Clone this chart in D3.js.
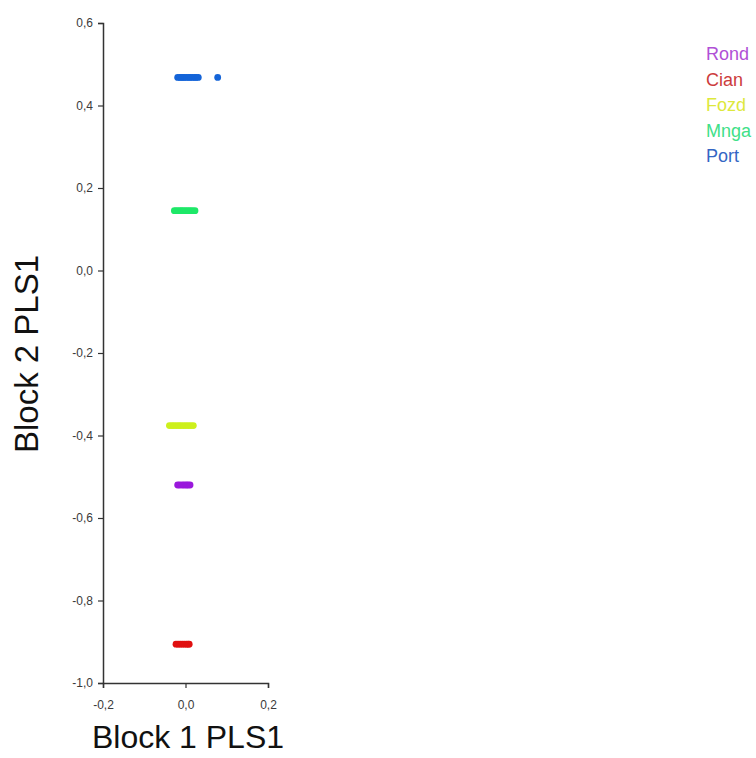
<!DOCTYPE html>
<html>
<head>
<meta charset="utf-8">
<script src="https://cdn.jsdelivr.net/npm/d3@7"></script>
<style>
  body { margin: 0; background: #fff; }
  svg { display: block; font-family: Arial, "Liberation Sans", sans-serif; }
</style>
</head>
<body>
<svg width="756" height="758"></svg>
<script>
// groups, in legend order
const groups = ['Rond', 'Cian', 'Fozd', 'Mnga', 'Port'];
const groupColors = ['#9a18dc', '#e01010', '#cdf01c', '#1ee868', '#1464d8'];
const legendColors = ['#b050d6', '#cc3c3c', '#dde83c', '#40e088', '#3466c4'];

// Block 2 PLS1 score per group (all specimens of a group share it)
const block2 = [-0.52, -0.906, -0.376, 0.145, 0.468];

// Block 1 PLS1 scores per group
const rondX = [-0.019, -0.014, -0.008, -0.003, 0.002, 0.006, 0.011];
const cianX = [-0.023, -0.018, -0.013, -0.008, -0.003, 0.002, 0.006, 0.009];
const fozdX = [-0.039, -0.033, -0.028, -0.022, -0.016, -0.011, -0.005, 0.001, 0.007, 0.013, 0.019];
const mngaX = [-0.027, -0.022, -0.017, -0.012, -0.008, -0.003, 0.002, 0.007, 0.012, 0.017, 0.023];
const portX = [-0.019, -0.014, -0.010, -0.006, -0.002, 0.003, 0.008, 0.012, 0.017, 0.022, 0.026, 0.031, 0.078];

const xTicks = [-0.2, 0.0, 0.2];
const yTicks = [0.6, 0.4, 0.2, 0.0, -0.2, -0.4, -0.6, -0.8, -1.0];

const svg = d3.select('svg');

const x = d3.scaleLinear().domain([-0.2, 0.2]).range([103, 268]);
const y = d3.scaleLinear().domain([-1.0, 0.6]).range([683, 23]);

const color = d3.scaleOrdinal(groups, groupColors);
const legendColor = d3.scaleOrdinal(groups, legendColors);
// decimal comma and plain hyphen, like the original
const fmt = d => d3.format('.1f')(d).replace('.', ',').replace('\u2212', '-');

const points = [rondX, cianX, fozdX, mngaX, portX]
  .flatMap((xs, i) => xs.map(v => ({ group: groups[i], x: v, y: block2[i] })));

// axes
const styleAxis = g => {
  g.select('.domain').attr('stroke', '#333').attr('stroke-width', 1.5);
  g.selectAll('.tick line').attr('stroke', '#333').attr('stroke-width', 1.2);
  g.selectAll('.tick text').attr('fill', '#3a3a3a').attr('font-size', 12);
};

svg.append('g')
  .attr('transform', `translate(${x.range()[0]},0)`)
  .call(d3.axisLeft(y).tickValues(yTicks).tickFormat(fmt).tickSize(5).tickPadding(5))
  .call(styleAxis);

svg.append('g')
  .attr('transform', `translate(0,${y.range()[0]})`)
  .call(d3.axisBottom(x).tickValues(xTicks).tickFormat(fmt).tickSize(5).tickPadding(12))
  .call(styleAxis);

// points
svg.append('g')
  .selectAll('circle')
  .data(points)
  .enter()
  .append('circle')
  .attr('cx', d => x(d.x))
  .attr('cy', d => y(d.y))
  .attr('r', 3.4)
  .attr('fill', d => color(d.group));

// axis titles
svg.append('text')
  .attr('x', 188)
  .attr('y', 748)
  .attr('text-anchor', 'middle')
  .attr('font-size', 32)
  .attr('fill', '#111')
  .text('Block 1 PLS1');

svg.append('text')
  .attr('transform', 'translate(38,354) rotate(-90)')
  .attr('text-anchor', 'middle')
  .attr('font-size', 33)
  .attr('fill', '#111')
  .text('Block 2 PLS1');

// legend, text only
svg.append('g')
  .selectAll('text')
  .data(groups)
  .enter()
  .append('text')
  .attr('x', 706)
  .attr('y', (d, i) => 54 + i * 25.5)
  .attr('dy', '0.35em')
  .attr('font-size', 18)
  .attr('fill', d => legendColor(d))
  .text(d => d);
</script>
</body>
</html>
